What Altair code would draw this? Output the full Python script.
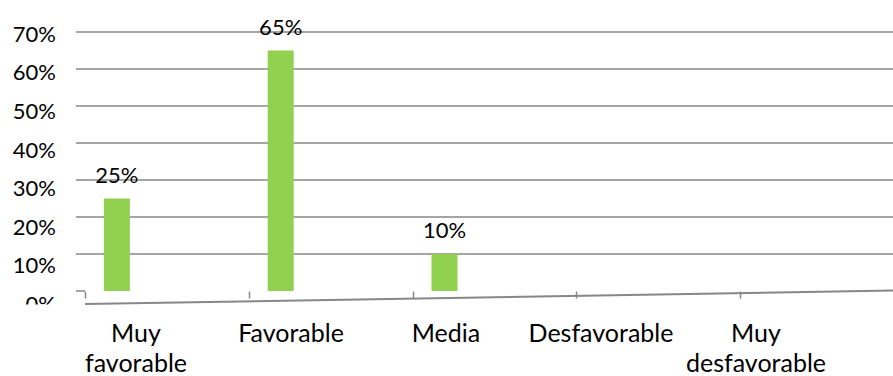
import altair as alt
import pandas as pd

# ---- data ----
categories = ["Muy favorable", "Favorable", "Media", "Desfavorable", "Muy desfavorable"]
shares = [0.25, 0.65, 0.10, 0.0, 0.0]
share_labels = ["25%", "65%", "10%", "", ""]
tick_values = [0.0, 0.1, 0.2, 0.3, 0.4, 0.5, 0.6, 0.7]
tick_labels = ["0%", "10%", "20%", "30%", "40%", "50%", "60%", "70%"]

FONT = "Lato"
FS = 22
FS_X = 25
GRID = "#878787"
GREEN = "#92D050"

bars_df = pd.DataFrame({"cat": categories, "share": shares, "label": share_labels})
ticks_df = pd.DataFrame({"v": tick_values, "t": tick_labels})
cats_df = pd.DataFrame({"cat": categories})
one = pd.DataFrame({"a": [0]})

x_band = alt.Scale(domain=categories, range=[9, 828], paddingInner=0, paddingOuter=0)
y_grid = alt.Scale(domain=[0, 0.7], nice=False, zero=True)

gridlines = alt.Chart(ticks_df).transform_filter("datum.v > 0").mark_rule(
    color=GRID, strokeWidth=1.5
).encode(
    y=alt.Y("v:Q", scale=y_grid, axis=None),
    x=alt.value(0), x2=alt.value(817),
)

bars = alt.Chart(bars_df).mark_bar(color=GREEN, width=26, xOffset=-50).encode(
    x=alt.X("cat:N", sort=None, scale=x_band, title=None,
            axis=alt.Axis(labels=False, domain=False, grid=False, ticks=True,
                          tickBand="extent", tickSize=7, tickColor=GRID, tickWidth=1.5)),
    y=alt.Y("share:Q", scale=y_grid, axis=None),
)

bar_text = alt.Chart(bars_df).transform_filter("datum.share > 0").mark_text(
    font=FONT, fontSize=FS, color="#000000", baseline="alphabetic", align="center",
    dy=-16, xOffset=-50,
).encode(
    x=alt.X("cat:N", sort=None, scale=x_band, axis=None),
    y=alt.Y("share:Q", scale=y_grid, axis=None),
    text="label:N",
)

x_labels = alt.Chart(cats_df).mark_text(
    font=FONT, fontSize=FS_X, color="#000000", baseline="alphabetic", align="center",
    lineBreak=" ", lineHeight=30,
).encode(
    x=alt.X("cat:N", sort=None,
            scale=alt.Scale(type="point", domain=categories, range=[60, 680], padding=0),
            axis=None),
    y=alt.value(310),
    text="cat:N",
)

y_labels = alt.Chart(ticks_df).mark_text(
    font=FONT, fontSize=FS, color="#000000", baseline="alphabetic", align="right",
).encode(
    x=alt.value(-20),
    y=alt.Y("v:Q", scale=alt.Scale(domain=[0, 0.7], range=[280, 9.7], nice=False, zero=False),
            axis=None),
    text="t:N",
)

cover = alt.Chart(one).mark_rect(color="white").encode(
    x=alt.value(-76), x2=alt.value(0), y=alt.value(272.5), y2=alt.value(300)
)

floor = alt.Chart(one).mark_rule(color=GRID, strokeWidth=2).encode(
    x=alt.value(9), x2=alt.value(817), y=alt.value(272), y2=alt.value(258.5)
)

stub = alt.Chart(one).mark_rule(color=GRID, strokeWidth=1.5).encode(
    x=alt.value(0), x2=alt.value(9), y=alt.value(259)
)

chart = alt.layer(
    gridlines, bars, bar_text, x_labels, y_labels, cover, floor, stub
).resolve_scale(
    x="independent", y="independent"
).properties(
    width=817, height=259,
    padding={"left": 76, "top": 32, "right": 0, "bottom": 85},
    autosize=alt.AutoSizeParams(type="none"),
    background="white",
).configure_view(stroke=None)

chart.save("out.html", embed_options={"renderer": "svg", "actions": False})
